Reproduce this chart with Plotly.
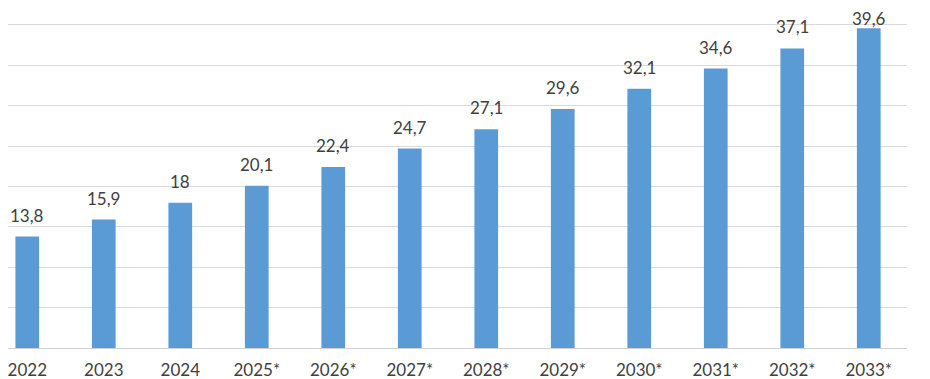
import plotly.graph_objects as go

categories = ["2022", "2023", "2024", "2025*", "2026*", "2027*", "2028*", "2029*", "2030*", "2031*", "2032*", "2033*"]
values = [13.8, 15.9, 18.0, 20.1, 22.4, 24.7, 27.1, 29.6, 32.1, 34.6, 37.1, 39.6]
labels = ["13,8", "15,9", "18", "20,1", "22,4", "24,7", "27,1", "29,6", "32,1", "34,6", "37,1", "39,6"]

FONT = "Lato"
TXT = "#404040"

PLOT_H = 340
Y_MAX = 42.1

xs = list(range(len(categories)))

fig = go.Figure(go.Bar(
    x=xs,
    y=values,
    marker=dict(color="#5B9BD5", line=dict(width=0)),
    width=0.31,
    cliponaxis=False,
))

for xi, v, lab in zip(xs, values, labels):
    top_px = PLOT_H * (1 - v / Y_MAX)
    shift = min(10, top_px - 22.5)
    fig.add_annotation(
        x=xi, y=v, text=lab, showarrow=False,
        xanchor="center", yanchor="bottom", yshift=shift,
        borderpad=0,
        font=dict(family=FONT, size=17, color=TXT),
    )

fig.update_layout(
    width=922, height=371,
    margin=dict(l=0, r=23, t=0, b=31, autoexpand=False),
    paper_bgcolor="white", plot_bgcolor="white",
    showlegend=False,
    xaxis=dict(
        tickmode="array",
        tickvals=xs,
        ticktext=categories,
        range=[-0.252, 11.5],
        showgrid=False, zeroline=False,
        showline=False,
        automargin=False,
        ticklabeloverflow="allow",
        tickfont=dict(family=FONT, size=17, color=TXT),
        ticks="outside", ticklen=7, tickcolor="rgba(0,0,0,0)",
    ),
    yaxis=dict(
        range=[0, Y_MAX],
        dtick=5, tick0=0,
        showgrid=True, gridcolor="#D9D9D9", gridwidth=1,
        zeroline=True, zerolinecolor="#D0D0D0", zerolinewidth=1,
        showticklabels=False, ticks="",
        automargin=False,
    ),
)

fig.write_html("out.html")
